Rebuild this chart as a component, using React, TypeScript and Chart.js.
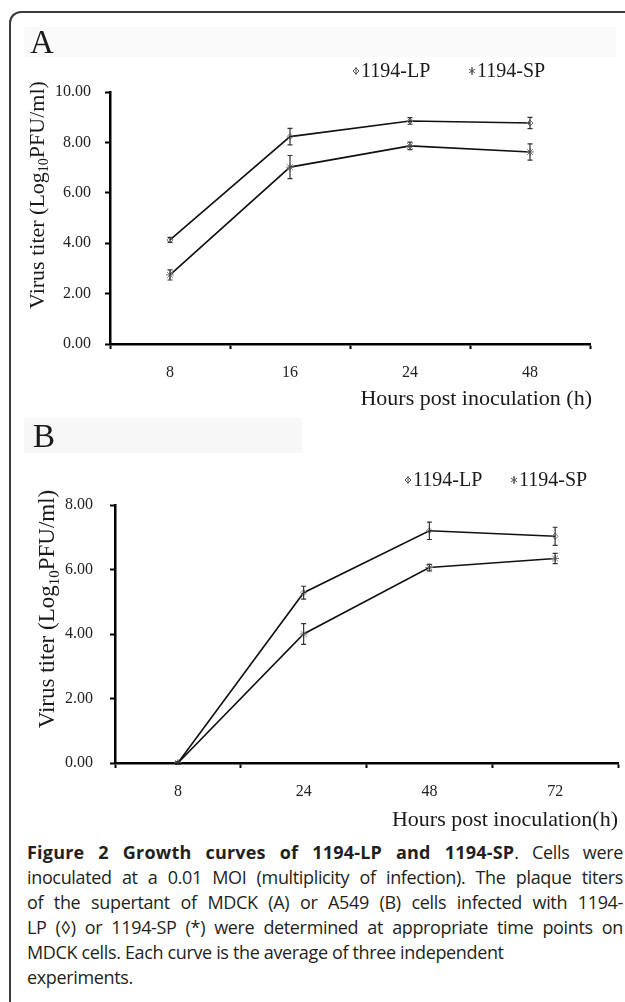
import React, { useEffect, useRef } from "react";
import { Chart, registerables } from "chart.js";
Chart.register(...registerables);

// ---------- DATA ----------
const seriesNames = ["1194-LP", "1194-SP"];

const hoursA = ["8", "16", "24", "48"];
const lpA = [4.13, 8.23, 8.85, 8.77];
const lpAErr = [0.1, 0.33, 0.13, 0.22];
const spA = [2.74, 7.02, 7.86, 7.62];
const spAErr = [0.2, 0.46, 0.15, 0.32];

const hoursB = ["8", "24", "48", "72"];
const lpB = [0, 5.28, 7.2, 7.03];
const lpBErr = [0.04, 0.2, 0.27, 0.28];
const spB = [0, 4.0, 6.06, 6.34];
const spBErr = [0.04, 0.32, 0.1, 0.16];

const yMaxA = 10;
const yMaxB = 8;
const yStep = 2;

const xTitleA = "Hours post inoculation (h)";
const xTitleB = "Hours post inoculation(h)";
const yTitleParts = ["Virus titer (Log", "10", "PFU/ml)"];

const SERIF = '"Liberation Serif", "Times New Roman", serif';
const W = 625;

type Layout = {
  top: number;
  height: number;
  area: { l: number; r: number; t: number; b: number };
  letter: { x: number; y: number; size: number };
  legend: { x1: number; x2: number; y: number; size: number };
  yTitle: { x: number; y: number; size: number };
  xTitle: { right: number; y: number; size: number };
  tickSize: number;
  yPad: number;
  xPad: number;
};

type PanelProps = {
  letter: string;
  labels: string[];
  lp: number[];
  lpErr: number[];
  sp: number[];
  spErr: number[];
  yMax: number;
  xTitle: string;
  layout: Layout;
};

function drawDiamond(ctx: CanvasRenderingContext2D, x: number, y: number, r: number) {
  ctx.beginPath();
  ctx.moveTo(x, y - r);
  ctx.lineTo(x + r, y);
  ctx.lineTo(x, y + r);
  ctx.lineTo(x - r, y);
  ctx.closePath();
  ctx.stroke();
}

function drawStar(ctx: CanvasRenderingContext2D, x: number, y: number, r: number) {
  ctx.beginPath();
  for (let i = 0; i < 3; i++) {
    const a = (Math.PI / 3) * i + Math.PI / 2;
    ctx.moveTo(x + Math.cos(a) * r, y + Math.sin(a) * r);
    ctx.lineTo(x - Math.cos(a) * r, y - Math.sin(a) * r);
  }
  ctx.stroke();
}

function Panel(props: PanelProps) {
  const ref = useRef<HTMLCanvasElement | null>(null);
  useEffect(() => {
    const canvas = ref.current;
    if (!canvas) return;
    const L = props.layout;
    const errs = [props.lpErr, props.spErr];

    const decor = {
      id: "decor",
      afterDatasetsDraw(chart: any) {
        const ctx: CanvasRenderingContext2D = chart.ctx;
        const yScale = chart.scales.y;
        ctx.save();
        chart.data.datasets.forEach((ds: any, di: number) => {
          const meta = chart.getDatasetMeta(di);
          meta.data.forEach((pt: any, i: number) => {
            const v = ds.data[i];
            const e = errs[di][i];
            const yT = yScale.getPixelForValue(v + e);
            const yB = yScale.getPixelForValue(v - e);
            ctx.strokeStyle = "#333";
            ctx.lineWidth = 1.2;
            ctx.beginPath();
            ctx.moveTo(pt.x, yT);
            ctx.lineTo(pt.x, yB);
            ctx.moveTo(pt.x - 2.5, yT);
            ctx.lineTo(pt.x + 2.5, yT);
            ctx.moveTo(pt.x - 2.5, yB);
            ctx.lineTo(pt.x + 2.5, yB);
            ctx.stroke();
          });
        });
        ctx.restore();
      },
      afterDraw(chart: any) {
        const ctx: CanvasRenderingContext2D = chart.ctx;
        ctx.save();
        ctx.fillStyle = "#1a1a1a";
        ctx.font = `${L.letter.size}px ${SERIF}`;
        ctx.textAlign = "left";
        ctx.textBaseline = "alphabetic";
        ctx.fillText(props.letter, L.letter.x, L.letter.y);

        ctx.font = `${L.legend.size}px ${SERIF}`;
        ctx.textBaseline = "middle";
        const lx = [L.legend.x1, L.legend.x2];
        chart.data.datasets.forEach((ds: any, di: number) => {
          const x = lx[di];
          const y = L.legend.y;
          ctx.strokeStyle = "#555";
          ctx.lineWidth = 1;
          if (di === 0) drawDiamond(ctx, x, y, 3);
          else drawStar(ctx, x, y, 3.5);
          ctx.beginPath();
          ctx.moveTo(x, y - 4);
          ctx.lineTo(x, y + 4);
          ctx.stroke();
          ctx.fillText(ds.label, x + 5, y + 1);
        });

        ctx.font = `${L.xTitle.size}px ${SERIF}`;
        ctx.textAlign = "right";
        ctx.textBaseline = "middle";
        ctx.fillText(props.xTitle, L.xTitle.right, L.xTitle.y);

        ctx.translate(L.yTitle.x, L.yTitle.y);
        ctx.rotate(-Math.PI / 2);
        const s = L.yTitle.size;
        const bigF = `${s}px ${SERIF}`;
        const smallF = `${Math.round(s * 0.64)}px ${SERIF}`;
        ctx.font = bigF;
        const w1 = ctx.measureText(yTitleParts[0]).width;
        const w3 = ctx.measureText(yTitleParts[2]).width;
        ctx.font = smallF;
        const w2 = ctx.measureText(yTitleParts[1]).width;
        const total = w1 + w2 + w3;
        let cx = -total / 2;
        const base = s * 0.32;
        ctx.textAlign = "left";
        ctx.textBaseline = "alphabetic";
        ctx.font = bigF;
        ctx.fillText(yTitleParts[0], cx, base);
        cx += w1;
        ctx.font = smallF;
        ctx.fillText(yTitleParts[1], cx, base + s * 0.2);
        cx += w2;
        ctx.font = bigF;
        ctx.fillText(yTitleParts[2], cx, base);
        ctx.restore();
      },
    };

    const tickFont = { family: SERIF, size: L.tickSize };
    const chart = new Chart(canvas, {
      type: "line",
      data: {
        labels: props.labels,
        datasets: [
          {
            label: seriesNames[0],
            data: props.lp,
            borderColor: "#111",
            borderWidth: 1.6,
            pointStyle: "rectRot",
            pointRadius: 3,
            pointBorderColor: "#777",
            pointBackgroundColor: "rgba(255,255,255,0)",
            pointBorderWidth: 1,
            tension: 0,
          },
          {
            label: seriesNames[1],
            data: props.sp,
            borderColor: "#111",
            borderWidth: 1.6,
            pointStyle: "star",
            pointRadius: 4,
            pointBorderColor: "#777",
            pointBackgroundColor: "#777",
            pointBorderWidth: 1,
            tension: 0,
          },
        ],
      },
      options: {
        animation: false,
        responsive: false,
        maintainAspectRatio: false,
        layout: {
          padding: { left: 0, right: W - L.area.r, top: L.area.t, bottom: 0 },
        },
        plugins: {
          legend: { display: false },
          tooltip: { enabled: false },
          title: { display: false },
        },
        scales: {
          x: {
            type: "category",
            offset: true,
            grid: {
              offset: true,
              drawOnChartArea: false,
              drawTicks: true,
              tickLength: 5,
              tickWidth: 2,
              tickColor: "#000",
            },
            border: { display: true, color: "#000", width: 2.5 },
            ticks: { color: "#222", font: tickFont, padding: L.xPad, maxRotation: 0, autoSkip: false },
            afterFit: (s: any) => {
              s.height = L.height - L.area.b;
            },
          },
          y: {
            min: 0,
            max: props.yMax,
            grid: {
              drawOnChartArea: false,
              drawTicks: true,
              tickLength: 5,
              tickWidth: 2,
              tickColor: "#000",
            },
            border: { display: true, color: "#000", width: 2.5 },
            ticks: {
              stepSize: yStep,
              color: "#222",
              font: tickFont,
              padding: L.yPad,
              callback: (v: any) => Number(v).toFixed(2),
            },
            afterFit: (s: any) => {
              s.width = L.area.l;
            },
          },
        },
      },
      plugins: [decor],
    } as any);
    return () => chart.destroy();
  }, []);
  const L = props.layout;
  return (
    <canvas
      ref={ref}
      width={W}
      height={L.height}
      style={{ position: "absolute", left: 0, top: L.top, width: W, height: L.height }}
    />
  );
}

const layoutA: Layout = {
  top: 0,
  height: 415,
  area: { l: 110, r: 590, t: 92, b: 344 },
  letter: { x: 30, y: 53, size: 33 },
  legend: { x1: 356, x2: 472, y: 71, size: 20 },
  yTitle: { x: 37, y: 195, size: 22 },
  xTitle: { right: 592, y: 399, size: 22 },
  tickSize: 16,
  yPad: 14,
  xPad: 14,
};

const layoutB: Layout = {
  top: 415,
  height: 420,
  area: { l: 115, r: 618, t: 90, b: 348 },
  letter: { x: 33, y: 32, size: 33 },
  legend: { x1: 408, x2: 514, y: 65, size: 20 },
  yTitle: { x: 47, y: 194, size: 23 },
  xTitle: { right: 618, y: 405, size: 22 },
  tickSize: 16,
  yPad: 17,
  xPad: 14,
};

const lineStyle: React.CSSProperties = {
  textAlign: "justify",
  textAlignLast: "justify" as any,
  whiteSpace: "nowrap",
};

export default function App() {
  return (
    <div
      style={{
        position: "absolute",
        left: 0,
        top: 0,
        width: 625,
        height: 1002,
        overflow: "hidden",
        background: "#fff",
      }}
    >
      <div
        style={{
          position: "absolute",
          left: 9,
          top: 11,
          width: 700,
          height: 1100,
          borderLeft: "2px solid #3a3a3a",
          borderTop: "2px solid #3a3a3a",
          borderTopLeftRadius: 12,
        }}
      />
      <div style={{ position: "absolute", left: 24, top: 27, width: 592, height: 30, background: "#fafafa" }} />
      <div style={{ position: "absolute", left: 24, top: 418, width: 278, height: 35, background: "#f7f7f7" }} />
      <Panel
        letter="A"
        labels={hoursA}
        lp={lpA}
        lpErr={lpAErr}
        sp={spA}
        spErr={spAErr}
        yMax={yMaxA}
        xTitle={xTitleA}
        layout={layoutA}
      />
      <Panel
        letter="B"
        labels={hoursB}
        lp={lpB}
        lpErr={lpBErr}
        sp={spB}
        spErr={spBErr}
        yMax={yMaxB}
        xTitle={xTitleB}
        layout={layoutB}
      />
      <div
        style={{
          position: "absolute",
          left: 27,
          top: 840,
          width: 596,
          fontFamily: '"Open Sans", "Noto Sans", sans-serif',
          fontSize: 18,
          letterSpacing: "-0.35px",
          lineHeight: "25px",
          color: "#231f20",
        }}
      >
        <div style={lineStyle}>
          <b style={{ letterSpacing: "0.2px" }}>Figure 2 Growth curves of 1194-LP and 1194-SP</b>. Cells were
        </div>
        <div style={lineStyle}>inoculated at a 0.01 MOI (multiplicity of infection). The plaque titers</div>
        <div style={lineStyle}>of the supertant of MDCK (A) or A549 (B) cells infected with 1194-</div>
        <div style={lineStyle}>LP (◊) or 1194-SP (*) were determined at appropriate time points on</div>
        <div style={{ whiteSpace: "nowrap" }}>MDCK cells. Each curve is the average of three independent</div>
        <div style={{ whiteSpace: "nowrap" }}>experiments.</div>
      </div>
    </div>
  );
}
